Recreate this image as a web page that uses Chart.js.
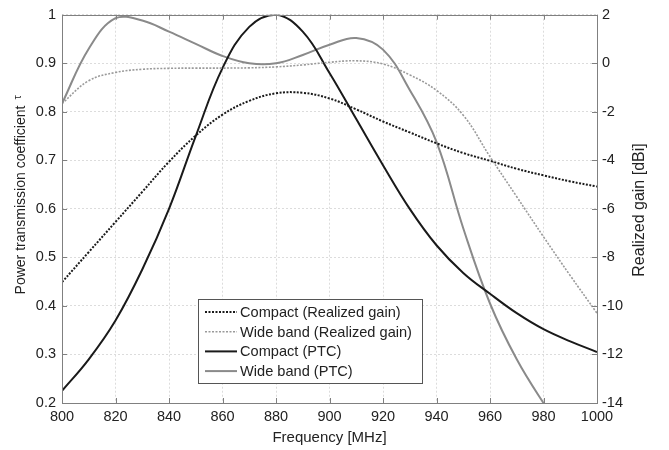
<!DOCTYPE html>
<html>
<head>
<meta charset="utf-8">
<script src="https://cdn.jsdelivr.net/npm/chart.js@4/dist/chart.umd.min.js"></script>
<style>
  html, body { margin: 0; padding: 0; background: #fff; }
  #wrap { width: 669px; height: 450px; }
</style>
</head>
<body>
<div id="wrap"><canvas id="line-chart" width="669" height="450"></canvas></div>
<script>
const freq = [800, 810, 820, 830, 840, 850, 860, 870, 880, 890, 900, 910, 920, 930, 940, 950, 960, 970, 980, 990, 1000];

// realized gain [dBi], right axis
const compactGain = [-9.02, -7.78, -6.54, -5.3, -4.06, -2.98, -2.12, -1.55, -1.24, -1.22, -1.45, -1.9, -2.4, -2.85, -3.3, -3.7, -4.02, -4.35, -4.62, -4.87, -5.08];
const wideGain = [-1.66, -0.72, -0.38, -0.25, -0.21, -0.2, -0.2, -0.19, -0.15, -0.07, 0.04, 0.1, -0.03, -0.48, -1.12, -2.14, -3.85, -5.5, -7.15, -8.75, -10.3];

// power transmission coefficient, left axis
const compactPTC = [0.225, 0.29, 0.37, 0.475, 0.6, 0.75, 0.89, 0.975, 1.0, 0.965, 0.88, 0.785, 0.69, 0.6, 0.525, 0.468, 0.425, 0.385, 0.352, 0.327, 0.305];
const widePTC = [0.817, 0.93, 0.993, 0.988, 0.965, 0.94, 0.915, 0.9, 0.9, 0.917, 0.938, 0.952, 0.928, 0.845, 0.738, 0.56, 0.405, 0.29, 0.2, 0.12, 0.05];

const labels = ["Compact (Realized gain)", "Wide band (Realized gain)", "Compact (PTC)", "Wide band (PTC)"];

const pts = (ys) => ys.map((y, i) => ({ x: freq[i], y: y }));

const font = "'Liberation Sans', Arial, sans-serif";

const framePlugin = {
  id: "frame",
  afterDatasetsDraw(chart) {
    const { ctx, chartArea: a, scales } = chart;
    ctx.save();
    ctx.strokeStyle = "#808080";
    ctx.lineWidth = 1;
    ctx.setLineDash([]);
    const seg = (x1, y1, x2, y2) => {
      ctx.beginPath(); ctx.moveTo(x1, y1); ctx.lineTo(x2, y2); ctx.stroke();
    };
    // inward ticks
    scales.x.ticks.forEach(t => {
      const px = Math.round(scales.x.getPixelForValue(t.value)) + 0.5;
      seg(px, a.bottom, px, a.bottom - 5);
      seg(px, a.top, px, a.top + 5);
    });
    scales.y.ticks.forEach(t => {
      const py = Math.round(scales.y.getPixelForValue(t.value)) + 0.5;
      seg(a.left, py, a.left + 5, py);
    });
    scales.y2.ticks.forEach(t => {
      const py = Math.round(scales.y2.getPixelForValue(t.value)) + 0.5;
      seg(a.right, py, a.right - 5, py);
    });
    ctx.strokeRect(Math.round(a.left) + 0.5, Math.round(a.top) + 0.5,
      Math.round(a.right - a.left), Math.round(a.bottom - a.top));

    // legend box inside the plot
    const bx = 198.5, by = 299.5, bw = 224, bh = 84;
    ctx.fillStyle = "#fff";
    ctx.fillRect(bx, by, bw, bh);
    ctx.strokeStyle = "#555";
    ctx.strokeRect(bx, by, bw, bh);
    ctx.font = "14.6px " + font;
    ctx.textBaseline = "middle";
    chart.data.datasets.forEach((ds, i) => {
      const cy = 312 + i * 19.7;
      ctx.strokeStyle = ds.borderColor;
      ctx.lineWidth = ds.borderWidth;
      ctx.setLineDash(ds.borderDash || []);
      seg(205, cy, 237, cy);
      ctx.setLineDash([]);
      ctx.fillStyle = "#222";
      ctx.fillText(ds.label, 240, cy + 1);
    });

    // axis titles, both reading bottom to top
    ctx.fillStyle = "#222";
    ctx.textBaseline = "middle";
    ctx.save();
    ctx.translate(21, 200);
    ctx.rotate(-Math.PI / 2);
    ctx.font = "14px " + font;
    const main = "Power transmission coefficient";
    const w = ctx.measureText(main).width;
    ctx.textAlign = "center";
    ctx.fillText(main, 0, 0);
    ctx.textAlign = "left";
    ctx.font = "11px " + font;
    ctx.fillText("\u03c4", w / 2 + 6, -3);
    ctx.restore();

    ctx.translate(640, 210);
    ctx.rotate(-Math.PI / 2);
    ctx.textAlign = "center";
    ctx.font = "16px " + font;
    ctx.fillText("Realized gain [dBi]", 0, 0);
    ctx.restore();
  }
};

new Chart(document.getElementById("line-chart"), {
  type: "line",
  data: {
    datasets: [
      {
        label: labels[0],
        data: pts(compactGain),
        yAxisID: "y2",
        borderColor: "#1a1a1a",
        borderWidth: 2,
        borderDash: [2, 1.5],
      },
      {
        label: labels[1],
        data: pts(wideGain),
        yAxisID: "y2",
        borderColor: "#9a9a9a",
        borderWidth: 1.6,
        borderDash: [2, 1.5],
      },
      {
        label: labels[2],
        data: pts(compactPTC),
        yAxisID: "y",
        borderColor: "#1a1a1a",
        borderWidth: 2,
      },
      {
        label: labels[3],
        data: pts(widePTC),
        yAxisID: "y",
        borderColor: "#8a8a8a",
        borderWidth: 2,
      },
    ],
  },
  options: {
    responsive: false,
    animation: false,
    events: [],
    elements: {
      point: { radius: 0 },
      line: { tension: 0.4, fill: false },
    },
    layout: { padding: { top: 12, right: 0, left: 0, bottom: 0 } },
    plugins: {
      legend: { display: false },
      tooltip: { enabled: false },
    },
    scales: {
      x: {
        type: "linear",
        min: 800,
        max: 1000,
        afterFit: (s) => { s.height = 47; },
        ticks: {
          stepSize: 20, padding: 5, color: "#222",
          font: { family: font, size: 14.5 },
          callback: (v) => String(v),
        },
        grid: { color: "#dcdcdc", drawTicks: false },
        border: { display: false, dash: [2, 2] },
        title: {
          display: true,
          text: "Frequency [MHz]",
          color: "#222",
          font: { family: font, size: 15 },
          padding: { top: 0, bottom: 3 },
        },
      },
      y: {
        position: "left",
        min: 0.2,
        max: 1,
        afterFit: (s) => { s.width = 62; },
        ticks: {
          stepSize: 0.1, padding: 6, color: "#222",
          font: { family: font, size: 14.5 },
          callback: (v) => String(Math.round(v * 10) / 10),
        },
        grid: { color: "#dcdcdc", drawTicks: false },
        border: { display: false, dash: [2, 2] },
      },
      y2: {
        position: "right",
        min: -14,
        max: 2,
        afterFit: (s) => { s.width = 72; },
        ticks: {
          stepSize: 2, padding: 5, color: "#222",
          font: { family: font, size: 14.5 },
          callback: (v) => String(v),
        },
        grid: { drawOnChartArea: false, drawTicks: false },
        border: { display: false },
      },
    },
  },
  plugins: [framePlugin],
});
</script>
</body>
</html>
